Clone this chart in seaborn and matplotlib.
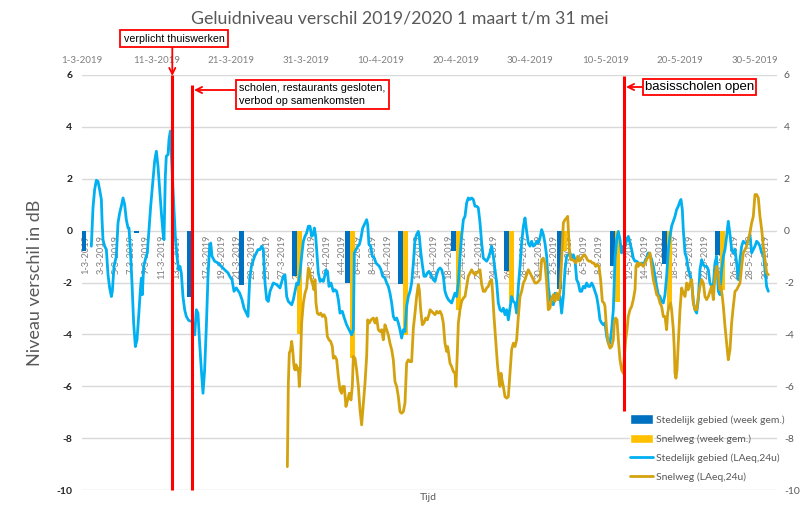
import matplotlib
matplotlib.use("Agg")
import matplotlib.pyplot as plt
import pandas as pd
import seaborn as sns
from matplotlib.patches import Patch
from matplotlib.lines import Line2D

# ---------------- data ----------------
TITLE = "Geluidniveau verschil 2019/2020 1 maart t/m 31 mei"
YLABEL = "Niveau verschil in dB"
XLABEL = "Tijd"

# weekly averages (category index = days since 1-3-2019)
week_cats_stad = [0, 7, 14, 21, 28, 35, 42, 49, 56, 63, 70, 77, 84]
week_stad = [-0.80, -0.10, -2.56, -2.08, -1.76, -2.00, -2.05, -0.80, -1.57, -2.25, -1.38, -1.29, -0.93]
week_cats_snel = [28, 35, 42, 49, 56, 63, 70, 77, 84]
week_snel = [-3.98, -4.92, -4.03, -3.05, -2.77, -0.80, -2.77, -3.02, -2.30]

# LAeq,24u running values: (days since 1-3-2019, dB)
stad_24u = [(1.25,-0.60),(1.47,0.88),(1.69,1.58),(1.92,1.94),(2.14,1.90),(2.36,1.58),(2.59,1.20),(2.68,0.42),(2.81,-0.35),(3.03,-0.60),(3.26,-0.73),(3.48,-1.70),(3.70,-2.21),(3.93,-2.54),(4.06,-2.34),(4.28,-1.38),(4.59,-0.99),(4.82,0.30),(5.04,0.68),(5.26,0.94),(5.49,1.26),(5.71,1.00),(5.93,0.42),(6.16,0.10),(6.29,0.10),(6.47,-0.73),(6.69,-2.02),(6.91,-3.56),(7.14,-4.47),(7.36,-4.21),(7.58,-3.31),(7.81,-2.28),(7.94,-1.83),(8.07,-2.47),(8.25,-1.38),(8.52,-1.06),(8.74,-0.86),(8.97,0.04),(9.19,0.94),(9.50,1.97),(9.72,2.68),(9.95,3.06),(10.17,2.48),(10.39,1.58),(10.62,0.68),(10.84,-0.09),(10.97,-0.35),(11.15,2.10),(11.28,2.87),(11.51,2.93),(11.64,3.51),(11.82,3.84),(12.09,2.10),(12.31,0.81),(12.49,-0.22),(12.71,-0.99),(12.93,-1.51),(13.11,-1.38),(13.29,-1.63),(13.51,-2.54),(13.74,-3.05),(13.96,-3.31),(14.27,-3.46),(14.63,-3.50),(14.85,-3.56),(15.08,-4.02),(15.30,-3.05),(15.52,-3.18),(15.74,-4.34),(15.97,-5.37),(16.19,-6.27),(16.41,-5.37),(16.64,-3.69),(16.86,-1.76),(17.08,-0.60),(17.22,-0.48),(17.40,-0.99),(17.75,-1.18),(18.20,-1.25),(18.64,-1.38),(19.09,-1.51),(19.54,-1.63),(19.76,-1.76),(20.07,-1.89),(20.34,-2.34),(20.65,-2.21),(21.10,-2.41),(21.41,-2.66),(21.68,-2.99),(21.99,-3.18),(22.21,-3.31),(22.44,-1.89),(22.66,-1.38),(23.10,-0.99),(23.55,-0.73),
            (23.82,-0.73),(24.04,-0.60),(24.26,-0.73),(24.49,-2.02),(24.71,-2.66),(24.93,-2.73),(25.16,-2.34),(25.60,-2.02),(26.05,-2.08),(26.49,-2.21),(26.94,-1.76),(27.16,-1.70),(27.39,-2.54),(27.61,-2.73),(28.06,-2.86),(28.28,-2.66),(28.50,-2.34),(28.73,-2.02),(28.95,-2.08),(29.17,-1.63),(29.39,-0.99),(29.62,-0.41),(29.84,-0.22),(30.06,-0.09),(30.29,0.17),(30.51,0.17),(30.73,-0.22),(30.95,-0.15),(31.09,0.10),(31.27,-0.22),(31.40,-0.73),(31.62,-1.63),(31.85,-1.96),(32.07,-1.89),(32.29,-1.96),(32.52,-1.70),(32.65,-1.51),(32.87,-1.63),(33.05,-2.15),(33.32,-2.02),(33.63,-2.34),(33.85,-2.28),(34.08,-2.34),(34.30,-2.66),(34.52,-3.18),(34.83,-3.11),(35.10,-3.37),(35.41,-3.63),(35.73,-3.82),(36.08,-4.02),(36.31,-3.82),(36.44,-0.86),(36.66,-0.73),(36.89,-0.60),(37.11,-0.54),(37.33,-0.28),(37.56,0.10),(37.78,0.23),(38.09,0.42),(38.23,0.23),(38.40,-0.54),(38.63,-0.60),(38.85,-0.99),(39.12,-1.06),(39.34,-1.25),(39.56,-1.31),(39.79,-1.38),(40.01,-1.51),(40.23,-1.76),(40.54,-1.83),(40.77,-2.02),(40.99,-2.15),(41.21,-2.41),(41.44,-2.79),(41.66,-3.31),(41.88,-3.44),(42.11,-3.37),(42.33,-3.56),(42.55,-3.82),(42.77,-4.14),(43.00,-3.82),(43.22,-3.89),(43.44,-2.92),(43.67,-2.54),(43.89,-2.34),(44.11,-2.02),(44.34,-1.25),(44.56,-0.35),(44.78,-0.15),(45.00,-0.03),(45.14,-0.22),(45.32,-0.80),(45.54,-1.31),(45.76,-1.76),(45.99,-1.76),(46.21,-1.63),(46.43,-1.57),
            (47.01,-1.89),(47.24,-1.96),(47.46,-1.70),(47.68,-1.51),(47.91,-1.44),(48.13,-1.51),(48.35,-1.76),(48.57,-2.34),(48.80,-2.54),(49.02,-2.66),(49.24,-2.73),(49.46,-2.79),(49.69,-2.60),(49.91,-2.41),(50.13,-2.54),(50.36,-2.02),(50.58,-0.99),(50.80,-0.22),(51.03,0.42),(51.25,0.55),(51.47,1.07),(51.69,1.26),(51.92,1.20),(52.14,1.26),(52.36,1.20),(52.59,0.94),(52.81,0.94),(53.03,0.88),(53.26,0.30),(53.48,-0.48),(53.70,-1.06),(53.93,-1.12),(54.15,-1.18),(54.37,-1.06),(54.59,-0.86),(54.82,-0.60),(55.04,-0.99),(55.26,-1.51),(55.49,-2.02),(55.71,-2.79),(55.93,-3.05),(56.16,-3.11),(56.38,-2.99),(56.60,-3.24),(56.83,-3.05),(57.05,-3.44),(57.27,-2.99),(57.49,-2.54),(57.72,-2.73),(57.94,-2.79),(58.16,-3.18),(58.39,-2.15),(58.61,-1.38),(58.83,-0.48),(59.06,0.17),(59.28,0.49),(59.50,-0.03),(59.72,-0.48),(59.95,-0.60),(60.17,-0.41),(60.39,-0.60),(60.62,-0.54),(60.84,-0.41),(61.06,-0.48),(61.29,-0.28),(61.51,0.04),(61.73,-0.15),(61.95,-0.48),(62.18,-0.99),(62.40,-2.15),(62.62,-2.66),(62.85,-2.79),(63.07,-2.86),(63.29,-2.41),(63.52,-2.47),(63.74,-2.66),(63.96,-2.54),(64.18,-3.18),(64.41,-2.54),(64.63,-1.51),(64.85,-0.99),(65.08,-0.93),(65.30,-0.86),(65.52,-1.06),(65.75,-0.93),(65.97,-1.12),(66.19,-1.89),(66.41,-2.02),(66.64,-2.34),(66.86,-2.34),(67.08,-2.15),(67.31,-2.21),(67.53,-2.02),(67.75,-2.15),(67.97,-2.15),(68.20,-2.02),(68.42,-2.15),(68.64,-2.34),(68.87,-2.54),(69.09,-2.92),(69.31,-3.44),(69.54,-3.56),(69.76,-3.63),(69.98,-3.56),(70.21,-4.08),(70.43,-4.34),
            (70.65,-4.34),(70.87,-3.82),(71.10,-3.05),(71.32,-1.12),(71.54,-0.35),(71.77,-0.03),(71.99,-0.35),(72.21,-0.86),(72.44,-0.60),(72.66,-0.60),(72.88,-0.35),(73.10,-0.22),(73.33,-0.48),(73.55,-0.73),(73.77,-1.06),(74.00,-1.18),(74.22,-1.18),(74.44,-1.25),(74.67,-1.31),(74.89,-1.25),(75.11,-1.31),(75.33,-1.18),(75.56,-1.06),(75.78,-0.86),(76.00,-0.93),(76.23,-1.12),(76.45,-1.38),(76.67,-1.76),(76.90,-2.15),(77.12,-2.47),(77.34,-2.54),(77.56,-2.73),(77.79,-2.79),(78.01,-2.47),(78.23,-1.76),(78.46,-0.73),(78.68,-0.22),(78.90,0.17),(79.13,0.36),(79.35,0.55),(79.57,0.81),(79.79,0.94),(80.02,1.13),(80.15,1.20),(80.33,0.81),(80.46,0.04),(80.69,-0.86),(80.91,-1.06),(81.13,-1.51),(81.36,-1.70),(81.58,-2.02),(81.80,-2.73),(82.02,-3.05),(82.25,-3.18),(82.47,-2.66),(82.69,-1.51),(82.92,-1.12),(83.14,-1.31),(83.36,-1.38),(83.59,-1.38),(83.81,-1.51),(84.03,-2.02),(84.25,-2.15),(84.48,-2.08),(84.70,-1.25),(84.92,-0.99),(85.15,-2.34),(85.37,-2.47),(85.59,-1.51),(85.82,-0.99),(86.04,-0.73),(86.26,-0.22),(86.48,0.36),(86.71,-0.15),(86.93,-0.73),(87.15,-0.86),(87.38,-0.73),(87.60,-1.25),(87.82,-1.89),(88.05,-1.12),(88.27,-0.60),(88.49,-0.41),(88.72,-0.48),(88.94,-0.48),(89.16,-0.35),(89.38,-0.15),(89.61,-0.86),(89.83,-0.73),(90.05,-0.60),(90.28,-0.41),(90.50,-0.48),(90.72,-0.60),(90.95,-0.86),(91.17,-0.86),(91.39,-1.51),(91.61,-2.15),(91.84,-2.34)]

snel_24u = [(27.48,-9.10),(27.61,-5.89),(27.74,-4.72),(27.92,-4.59),(28.06,-4.27),(28.19,-4.59),(28.37,-5.24),(28.50,-5.37),(28.64,-5.17),(28.81,-5.37),(28.95,-5.30),(29.08,-6.01),(29.21,-5.37),(29.39,-3.56),(29.62,-2.79),(29.84,-2.41),(30.06,-2.21),(30.29,-1.44),(30.42,-1.51),(30.60,-1.83),(30.82,-2.02),(31.04,-2.28),(31.18,-1.89),(31.31,-2.79),(31.49,-3.18),(31.71,-3.24),(31.94,-3.18),(32.16,-3.31),(32.38,-3.24),(32.61,-3.37),(32.83,-4.08),(33.05,-4.21),(33.27,-4.27),(33.50,-4.47),(33.63,-4.92),(33.85,-4.85),(34.08,-4.98),(34.30,-5.62),(34.52,-6.14),(34.75,-6.27),(34.88,-6.01),(35.10,-6.01),(35.32,-6.78),(35.55,-6.53),(35.77,-6.27),(35.99,-6.53),(36.17,-6.01),(36.31,-4.85),(36.53,-4.92),(36.75,-5.37),(36.98,-6.01),(37.20,-6.91),(37.42,-7.49),(37.65,-6.65),(37.87,-5.88),(38.09,-4.85),(38.23,-3.44),(38.45,-3.56),(38.67,-3.44),(38.98,-3.37),(39.21,-3.56),(39.43,-3.37),(39.65,-3.82),(39.88,-3.89),(40.10,-3.82),(40.32,-4.21),(40.54,-3.63),(40.77,-3.82),(40.99,-4.02),(41.21,-4.34),(41.44,-4.59),(41.66,-4.98),(41.88,-5.82),(42.11,-6.01),(42.33,-6.40),(42.55,-6.98),(42.77,-7.04),(43.00,-6.98),(43.22,-6.65),(43.44,-5.11),(43.67,-4.98),(43.89,-5.05),(44.11,-5.05),(44.34,-3.76),(44.56,-3.18),(44.78,-2.54),(45.00,-2.08),(45.14,-2.28),(45.32,-3.05),(45.54,-3.63),(45.76,-3.56),(45.99,-3.37),(46.21,-3.44),(46.43,-3.24),
            (46.57,-3.05),(46.79,-3.11),(47.01,-3.18),(47.24,-3.24),(47.46,-3.11),(47.68,-3.18),(47.91,-3.11),(48.13,-3.24),(48.35,-3.56),(48.57,-4.34),(48.80,-4.66),(48.93,-4.47),(49.11,-4.85),(49.24,-5.11),(49.46,-5.24),(49.69,-5.43),(49.91,-5.50),(50.04,-6.01),(50.22,-4.72),(50.36,-3.56),(50.58,-3.05),(50.80,-2.73),(51.03,-2.60),(51.25,-2.54),(51.47,-2.15),(51.69,-1.76),(51.92,-1.63),(52.14,-1.51),(52.36,-1.63),(52.59,-1.70),(52.81,-1.63),(53.03,-1.57),(53.26,-1.51),(53.48,-2.08),(53.70,-2.34),(53.93,-2.34),(54.15,-2.21),(54.37,-2.15),(54.59,-1.96),(54.82,-1.89),(54.95,-2.41),(55.13,-3.31),(55.35,-4.21),(55.58,-5.11),(55.80,-5.75),(55.93,-6.01),(56.07,-5.50),(56.20,-5.75),(56.38,-6.01),(56.60,-6.40),(56.83,-6.46),(57.05,-6.40),(57.27,-5.50),(57.49,-4.59),(57.72,-4.34),(57.94,-4.47),(58.16,-4.21),(58.39,-3.31),(58.61,-2.54),(58.83,-2.34),(59.06,-2.02),(59.28,-1.89),(59.50,-1.70),(59.72,-1.51),(59.95,-1.63),(60.17,-1.76),(60.39,-1.89),(60.62,-2.02),(60.84,-2.02),(61.06,-1.96),(61.29,-1.89),(61.51,-1.12),(61.73,-1.06),(61.95,-1.25),(62.18,-2.02),(62.40,-3.05),(62.62,-2.99),(62.85,-2.60),(63.07,-2.47),(63.29,-2.73),(63.52,-2.41),(63.74,-2.66),(63.96,-2.34),(64.18,-1.12),(64.41,0.30),(64.63,0.42),(64.85,0.49),(64.99,0.55),(65.21,-0.73),(65.39,-1.12),(65.66,-1.12),(65.88,-1.18),(66.10,-1.25),(66.33,-0.99),(66.55,-1.18),(66.77,-1.12),(67.00,-0.99),(67.17,-0.93),(67.40,-0.99),(67.62,-1.12),(67.84,-1.18),(68.07,-1.18),(68.29,-1.25),(68.51,-1.25),(68.73,-1.38),(68.96,-1.31),(69.18,-1.38),(69.40,-1.89),(69.63,-2.73),(69.85,-2.79),
            (69.98,-2.92),(70.20,-3.82),(70.43,-4.34),(70.65,-4.53),(70.87,-4.47),(71.10,-4.21),(71.23,-3.56),(71.41,-3.37),(71.59,-3.44),(71.77,-4.21),(71.99,-4.98),(72.21,-5.37),(72.44,-5.50),(72.57,-4.85),(72.75,-4.21),(72.93,-3.82),(73.10,-3.31),(73.33,-3.05),(73.55,-2.92),(73.77,-2.66),(74.00,-2.28),(74.13,-1.38),(74.31,-1.25),(74.44,-1.38),(74.67,-1.25),(74.89,-1.31),(75.11,-1.38),(75.33,-1.25),(75.56,-1.12),(75.78,-0.99),(76.00,-0.86),(76.23,-1.38),(76.45,-1.89),(76.67,-2.15),(76.90,-2.47),(77.12,-2.54),(77.34,-2.79),(77.56,-2.92),(77.79,-3.31),(78.01,-3.31),(78.23,-3.82),(78.37,-3.18),(78.55,-2.92),(78.77,-2.79),(78.90,-3.05),(79.13,-3.82),(79.26,-4.59),(79.35,-5.50),(79.48,-5.69),(79.62,-5.37),(79.79,-4.34),(80.02,-3.05),(80.24,-2.21),(80.46,-2.41),(80.69,-2.54),(80.91,-2.02),(81.13,-2.28),(81.36,-2.02),(81.58,-1.89),(81.80,-2.79),(82.02,-3.05),(82.25,-3.05),(82.47,-2.54),(82.69,-2.15),(82.92,-1.89),(83.14,-2.02),(83.36,-2.54),(83.59,-2.66),(83.81,-2.54),(84.03,-2.34),(84.25,-2.15),(84.48,-2.66),(84.70,-1.76),(84.92,-1.38),(85.15,-1.76),(85.37,-2.28),(85.50,-2.15),(85.68,-2.54),(85.82,-2.92),(86.04,-3.69),(86.26,-4.34),(86.48,-4.98),(86.71,-4.59),(86.93,-3.56),(87.15,-2.92),(87.38,-2.34),(87.60,-2.28),(87.82,-2.15),(88.05,-2.02),(88.27,-1.38),(88.49,-0.86),(88.72,-0.73),(88.94,-0.60),(89.16,-0.35),(89.38,-0.09),(89.61,0.30),(89.83,0.55),(90.05,1.39),(90.28,1.39),(90.50,1.26),(90.72,0.55),(90.95,0.04),(91.17,-0.60),(91.39,-1.12),(91.61,-1.63),(91.84,-1.70)]

# x tick labels
bottom_labels = [f"{d.day}-{d.month}-2019" for d in pd.date_range("2019-03-01", "2019-05-30", freq="2D")]
top_ticks = [0, 10, 20, 30, 40, 50, 60, 70, 80, 90]
top_labels = ["1-3-2019", "11-3-2019", "21-3-2019", "31-3-2019", "10-4-2019",
              "20-4-2019", "30-4-2019", "10-5-2019", "20-5-2019", "30-5-2019"]
y_ticks = [-10, -8, -6, -4, -2, 0, 2, 4, 6]

# events (days since 1-3-2019), with vertical extent in dB
events = [(12.08, 6.0, -10.0), (14.76, 5.63, -10.0), (72.53, 5.98, -6.97)]

C_STAD_BAR = "#0070C0"
C_SNEL_BAR = "#FFC000"
C_STAD_LINE = "#00B0F0"
C_SNEL_LINE = "#D4A20F"
GREY = "#595959"

# ---------------- figure ----------------
sns.set_style("white")
plt.rcParams["font.family"] = ["Lato", "DejaVu Sans"]

W, H = 800, 508
fig = plt.figure(figsize=(W / 100, H / 100), dpi=100)
ax = fig.add_axes([82 / W, 18 / H, 695 / W, 415 / H])

def fy(y):
    return H - y

bars = pd.DataFrame({
    "cat": week_cats_stad + week_cats_snel,
    "val": week_stad + week_snel,
    "serie": ["Stedelijk gebied (week gem.)"] * len(week_stad) + ["Snelweg (week gem.)"] * len(week_snel),
})
sns.barplot(data=bars, x="cat", y="val", hue="serie",
            hue_order=["Stedelijk gebied (week gem.)", "Snelweg (week gem.)"],
            palette=[C_STAD_BAR, C_SNEL_BAR], native_scale=True, dodge=True,
            width=1.32 / 7, saturation=1, errorbar=None, legend=False, ax=ax,
            linewidth=0)
ax.set_xlim(-0.5, 91.5)
ax.set_ylim(-10, 6)
ax.set_xlabel("")
ax.set_ylabel("")
for s in ax.spines.values():
    s.set_visible(False)
ax.spines["bottom"].set_position(("data", 0))
ax.set_xticks(list(range(0, 91, 2)), labels=bottom_labels, rotation=90)
ax.tick_params(axis="x", length=0, pad=3, labelsize=6.7, labelcolor="#7F7F7F")
ax.set_yticks(y_ticks, labels=[str(v) for v in y_ticks], fontweight="bold")
ax.tick_params(axis="y", length=0, pad=7, labelsize=7.5, labelcolor="#262626")
ax.grid(axis="y", color="#D9D9D9", lw=1)
ax.grid(axis="x", visible=False)
ax.set_axisbelow(True)

sec = ax.secondary_yaxis("right")
sec.set_yticks(y_ticks, labels=[str(v) for v in y_ticks])
sec.tick_params(length=0, pad=5, labelsize=7.5, labelcolor=GREY)
for s in sec.spines.values():
    s.set_visible(False)

# top date axis for the 24h lines
ax2 = ax.twiny()
ax2.set_xlim(0, 93)
stad_df = pd.DataFrame(stad_24u, columns=["dag", "db"])
snel_df = pd.DataFrame(snel_24u, columns=["dag", "db"])
sns.lineplot(data=stad_df, x="dag", y="db", ax=ax2, color=C_STAD_LINE, lw=2.0,
             sort=False, estimator=None)
sns.lineplot(data=snel_df, x="dag", y="db", ax=ax2, color=C_SNEL_LINE, lw=2.0,
             sort=False, estimator=None)
for ln in ax2.get_lines():
    ln.set_solid_joinstyle("round")
ax2.set_xlim(0, 93)
ax2.set_ylim(-10, 6)
ax2.set_xlabel("")
ax2.set_ylabel("")
ax2.set_xticks(top_ticks, labels=top_labels)
ax2.tick_params(axis="x", length=0, pad=7, labelsize=7, labelcolor="#7F7F7F")
for s in ax2.spines.values():
    s.set_visible(False)

# event lines
for d, v0, v1 in events:
    ax2.plot([d, d], [v0, v1], color="red", lw=2.2, solid_capstyle="butt", clip_on=False)

# annotations
arrow = dict(arrowstyle="->", color="red", lw=1.3, mutation_scale=11, shrinkA=0, shrinkB=0)
ax2.annotate("", xy=(172.3, fy(76)), xytext=(172.3, fy(47)), xycoords="figure pixels",
             textcoords="figure pixels", arrowprops=arrow)
ax2.annotate("", xy=(194, fy(90)), xytext=(235, fy(90)), xycoords="figure pixels",
             textcoords="figure pixels", arrowprops=arrow)
ax2.annotate("", xy=(626, fy(87)), xytext=(642, fy(87)), xycoords="figure pixels",
             textcoords="figure pixels", arrowprops=arrow)

box = dict(boxstyle="square,pad=0.3", fc="white", ec="red", lw=1.3)
fig.text(174 / W, fy(38.5) / H, "verplicht thuiswerken", ha="center", va="center",
         fontsize=7.7, family="Liberation Sans", color="black", bbox=box)
fig.text(239 / W, fy(94.5) / H, "scholen, restaurants gesloten,\nverbod op samenkomsten",
         ha="left", va="center", fontsize=7.8, family="Liberation Sans", color="black",
         linespacing=1.3, bbox=box)
fig.text(699.5 / W, fy(87) / H, "basisscholen open", ha="center", va="center",
         fontsize=9.5, family="Liberation Sans", color="black",
         bbox=dict(boxstyle="square,pad=0.15", fc="white", ec="red", lw=1.3))

# titles
fig.text(0.5, fy(19) / H, TITLE, ha="center", va="center", fontsize=12.8, color=GREY)
fig.text(35 / W, fy(283) / H, YLABEL, rotation=90, ha="center", va="center",
         fontsize=13, color=GREY)
fig.text(428 / W, fy(497) / H, XLABEL, ha="center", va="center", fontsize=7.5, color=GREY)

# legend
handles = [Patch(facecolor=C_STAD_BAR), Patch(facecolor=C_SNEL_BAR),
           Line2D([], [], color=C_STAD_LINE, lw=2.0), Line2D([], [], color=C_SNEL_LINE, lw=2.0)]
labels = ["Stedelijk gebied (week gem.)", "Snelweg (week gem.)",
          "Stedelijk gebied (LAeq,24u)", "Snelweg (LAeq,24u)"]
fig.legend(handles, labels, loc="upper left", bbox_to_anchor=(630 / W, fy(414.5) / H),
           frameon=False, fontsize=7.5, labelcolor=GREY, handlelength=2.2,
           handleheight=1.0, handletextpad=0.3, labelspacing=0.86, borderpad=0,
           borderaxespad=0)

fig.savefig("out.png", dpi=100)
